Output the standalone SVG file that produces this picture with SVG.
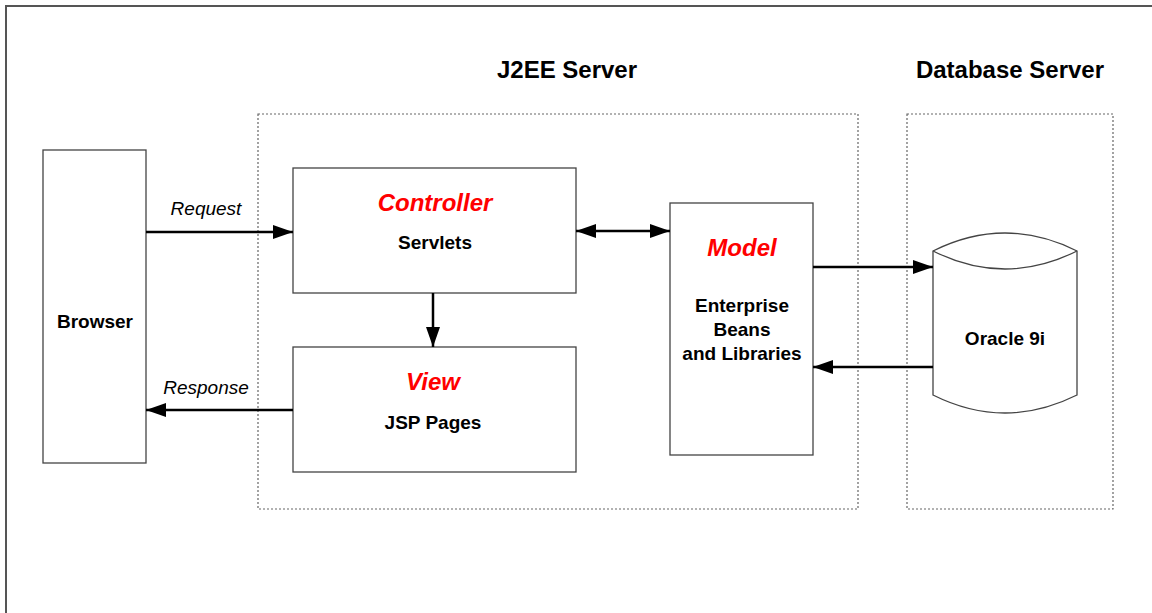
<svg xmlns="http://www.w3.org/2000/svg" width="1152" height="613" viewBox="0 0 1152 613">
<style>
.frame{fill:none;stroke:#555;stroke-width:2}
.zone{fill:none;stroke:#666;stroke-width:1.2;stroke-dasharray:2,2}
.box{fill:#fff;stroke:#444;stroke-width:1.3}
.conn{stroke:#000;stroke-width:2.5;fill:none}
.t{font-family:"Liberation Sans",Arial,sans-serif;font-weight:bold;font-size:19px;fill:#000;text-anchor:middle}
.h{font-family:"Liberation Sans",Arial,sans-serif;font-weight:bold;font-size:24px;fill:#000;text-anchor:middle}
.r{font-family:"Liberation Sans",Arial,sans-serif;font-weight:bold;font-style:italic;font-size:24px;fill:#f00;text-anchor:middle}
.l{font-family:"Liberation Sans",Arial,sans-serif;font-style:italic;font-size:19px;fill:#000;text-anchor:middle}
</style>
<defs>
<marker id="ah" markerWidth="20" markerHeight="14" refX="20" refY="7" orient="auto" markerUnits="userSpaceOnUse">
<path d="M0,0 L20,7 L0,14 Z" fill="#000"/>
</marker>
<marker id="as" markerWidth="20" markerHeight="14" refX="0" refY="7" orient="auto" markerUnits="userSpaceOnUse">
<path d="M20,0 L0,7 L20,14 Z" fill="#000"/>
</marker>
</defs>
<rect width="1152" height="613" fill="#fff"/>
<path class="frame" d="M1160,6 L6,6 L6,620"/>
<g id="j2ee-server">
<rect class="zone" x="258" y="114" width="600" height="395"/>
<text class="h" x="567" y="78">J2EE Server</text>
</g>
<g id="database-server">
<rect class="zone" x="907" y="114" width="206" height="395"/>
<text class="h" x="1010" y="78">Database Server</text>
</g>
<g id="browser">
<rect class="box" x="43" y="150" width="103" height="313"/>
<text class="t" x="95" y="328">Browser</text>
</g>
<g id="controller">
<rect class="box" x="293" y="168" width="283" height="125"/>
<text class="r" x="435" y="211">Controller</text>
<text class="t" x="435" y="249">Servlets</text>
</g>
<g id="view">
<rect class="box" x="293" y="347" width="283" height="125"/>
<text class="r" x="433" y="390">View</text>
<text class="t" x="433" y="429">JSP Pages</text>
</g>
<g id="model">
<rect class="box" x="670" y="203" width="143" height="252"/>
<text class="r" x="742" y="256">Model</text>
<text class="t" x="742" y="312">Enterprise</text>
<text class="t" x="742" y="336">Beans</text>
<text class="t" x="742" y="360">and Libraries</text>
</g>
<g id="oracle">
<path class="box" d="M933,251 Q1005,215 1077,251 L1077,395 Q1005,431 933,395 Z"/>
<path class="box" fill="none" d="M933,251 Q1005,287 1077,251"/>
<text class="t" x="1005" y="345">Oracle 9i</text>
</g>
<g id="connectors">
<line class="conn" x1="146" y1="232" x2="293" y2="232" marker-end="url(#ah)"/>
<text class="l" x="206" y="215">Request</text>
<line class="conn" x1="293" y1="410" x2="146" y2="410" marker-end="url(#ah)"/>
<text class="l" x="206" y="394">Response</text>
<line class="conn" x1="576" y1="231" x2="670" y2="231" marker-start="url(#as)" marker-end="url(#ah)"/>
<line class="conn" x1="433" y1="293" x2="433" y2="347" marker-end="url(#ah)"/>
<line class="conn" x1="813" y1="267" x2="933" y2="267" marker-end="url(#ah)"/>
<line class="conn" x1="933" y1="367" x2="813" y2="367" marker-end="url(#ah)"/>
</g>
</svg>
